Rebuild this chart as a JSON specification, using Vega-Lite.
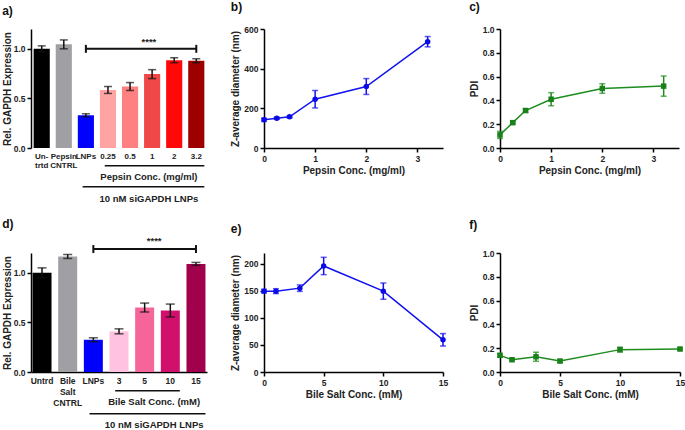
{
  "$schema": "https://vega.github.io/schema/vega-lite/v6.json",
  "padding": {"left": 2, "top": 1, "right": 0, "bottom": 0},
  "background": "white",
  "columns": 3,
  "bounds": "flush",
  "spacing": {"row": 105, "column": 57},
  "resolve": {"scale": {"color": "independent"}},
  "datasets": {
    "a_bars": [
      {"cat": "Un-|trtd", "v": 1.0, "lo": 0.97, "hi": 1.03},
      {"cat": "Pepsin|CNTRL", "v": 1.045, "lo": 1.0, "hi": 1.09},
      {"cat": "LNPs", "v": 0.33, "lo": 0.315, "hi": 0.345},
      {"cat": "0.25", "v": 0.585, "lo": 0.55, "hi": 0.62},
      {"cat": "0.5", "v": 0.62, "lo": 0.58, "hi": 0.66},
      {"cat": "1", "v": 0.745, "lo": 0.7, "hi": 0.79},
      {"cat": "2", "v": 0.885, "lo": 0.86, "hi": 0.91},
      {"cat": "3.2", "v": 0.88, "lo": 0.86, "hi": 0.9}
    ],
    "a_bracket": [{"x1": "LNPs", "x2": "3.2", "y": 1.0}],
    "a_caps": [{"x": "LNPs", "y1": 0.96, "y2": 1.04}, {"x": "3.2", "y1": 0.96, "y2": 1.04}],
    "a_under": [{"x1": "0.25", "x2": "3.2", "y": -0.18}, {"x1": "LNPs", "x2": "3.2", "y": -0.39}],
    "a_text": [
      {"x": "1", "y": 1.07, "label": "****"},
      {"x": "1", "y": -0.29, "label": "Pepsin Conc. (mg/ml)"},
      {"x": "1", "y": -0.51, "label": "10 nM siGAPDH LNPs"}
    ],
    "d_bars": [
      {"cat": "Untrd", "v": 1.0, "lo": 0.95, "hi": 1.05},
      {"cat": "Bile|Salt|CNTRL", "v": 1.165, "lo": 1.145, "hi": 1.185},
      {"cat": "LNPs", "v": 0.325, "lo": 0.305, "hi": 0.345},
      {"cat": "3", "v": 0.41, "lo": 0.385, "hi": 0.435},
      {"cat": "5", "v": 0.65, "lo": 0.605, "hi": 0.695},
      {"cat": "10", "v": 0.62, "lo": 0.555, "hi": 0.685},
      {"cat": "15", "v": 1.09, "lo": 1.075, "hi": 1.105}
    ],
    "d_bracket": [{"x1": "LNPs", "x2": "15", "y": 1.24}],
    "d_caps": [{"x": "LNPs", "y1": 1.2, "y2": 1.28}, {"x": "15", "y1": 1.2, "y2": 1.28}],
    "d_under": [{"x1": "3", "x2": "10", "y": -0.19}, {"x1": "LNPs", "x2": "15", "y": -0.42}],
    "d_text": [
      {"x": "5", "y": 1.325, "label": "****"},
      {"x": "5", "y": -0.3, "label": "Bile Salt Conc. (mM)"},
      {"x": "5", "y": -0.53, "label": "10 nM siGAPDH LNPs"}
    ],
    "b_pts": [
      {"x": 0, "v": 142, "lo": 134, "hi": 150},
      {"x": 0.25, "v": 150, "lo": 145, "hi": 155},
      {"x": 0.5, "v": 157, "lo": 152, "hi": 162},
      {"x": 1, "v": 246, "lo": 202, "hi": 290},
      {"x": 2, "v": 310, "lo": 270, "hi": 350},
      {"x": 3.2, "v": 536, "lo": 510, "hi": 562}
    ],
    "c_pts": [
      {"x": 0, "v": 0.11, "lo": 0.08, "hi": 0.14},
      {"x": 0.25, "v": 0.213, "lo": 0.203, "hi": 0.223},
      {"x": 0.5, "v": 0.315, "lo": 0.3, "hi": 0.33},
      {"x": 1, "v": 0.41, "lo": 0.355, "hi": 0.465},
      {"x": 2, "v": 0.5, "lo": 0.46, "hi": 0.54},
      {"x": 3.2, "v": 0.52, "lo": 0.435, "hi": 0.605}
    ],
    "e_pts": [
      {"x": 0, "v": 149.5, "lo": 146, "hi": 153},
      {"x": 1, "v": 149.5, "lo": 145, "hi": 154},
      {"x": 3, "v": 155, "lo": 149, "hi": 161},
      {"x": 5, "v": 196, "lo": 180, "hi": 212},
      {"x": 10, "v": 149.5, "lo": 134.5, "hi": 164.5},
      {"x": 15, "v": 59.5, "lo": 48, "hi": 71}
    ],
    "f_pts": [
      {"x": 0, "v": 0.14, "lo": 0.125, "hi": 0.155},
      {"x": 1, "v": 0.103, "lo": 0.093, "hi": 0.113},
      {"x": 3, "v": 0.128, "lo": 0.09, "hi": 0.166},
      {"x": 5, "v": 0.092, "lo": 0.08, "hi": 0.104},
      {"x": 10, "v": 0.188, "lo": 0.168, "hi": 0.208},
      {"x": 15, "v": 0.193, "lo": 0.183, "hi": 0.203}
    ]
  },
  "concat": [
    {
      "width": 176, "height": 119,
      "title": {"text": "a)", "offset": 11},
      "layer": [
        {
          "data": {"name": "a_bars"},
          "mark": {"type": "bar"},
          "encoding": {
            "x": {"field": "cat", "type": "nominal",
              "scale": {"domain": ["Un-|trtd", "Pepsin|CNTRL", "LNPs", "0.25", "0.5", "1", "2", "3.2"], "paddingInner": 0.27, "paddingOuter": 0.12},
              "axis": {"title": null, "domain": false, "ticks": false, "labelPadding": 4, "labelFontSize": 8, "labelLineHeight": 9, "labelExpr": "split(datum.label, '|')"}},
            "y": {"field": "v", "type": "quantitative",
              "scale": {"domain": [0, 1.2], "nice": false},
              "axis": {"values": [0, 0.5, 1.0], "tickCount": 3, "format": ".1f", "title": "Rel. GAPDH Expression", "titlePadding": 1}},
            "color": {"field": "cat", "type": "nominal", "legend": null,
              "scale": {"domain": ["Un-|trtd", "Pepsin|CNTRL", "LNPs", "0.25", "0.5", "1", "2", "3.2"],
                "range": ["#000000", "#a0a0a4", "#0000ff", "#ffa3a3", "#ff8080", "#f04848", "#ff0808", "#9e0000"]}}
          }
        },
        {
          "data": {"name": "a_bars"},
          "mark": {"type": "rule", "color": "#111", "strokeWidth": 1.5},
          "encoding": {
            "x": {"field": "cat", "type": "nominal"},
            "y": {"field": "lo", "type": "quantitative", "scale": {"domain": [0, 1.2], "nice": false}},
            "y2": {"field": "hi"}
          }
        },
        {
          "data": {"name": "a_bars"},
          "mark": {"type": "tick", "orient": "horizontal", "size": 8, "thickness": 1.5, "color": "#111"},
          "encoding": {
            "x": {"field": "cat", "type": "nominal"},
            "y": {"field": "lo", "type": "quantitative", "scale": {"domain": [0, 1.2], "nice": false}}
          }
        },
        {
          "data": {"name": "a_bars"},
          "mark": {"type": "tick", "orient": "horizontal", "size": 8, "thickness": 1.5, "color": "#111"},
          "encoding": {
            "x": {"field": "cat", "type": "nominal"},
            "y": {"field": "hi", "type": "quantitative", "scale": {"domain": [0, 1.2], "nice": false}}
          }
        },
        {
          "data": {"name": "a_bracket"},
          "mark": {"type": "rule", "color": "#111", "strokeWidth": 2},
          "encoding": {
            "x": {"field": "x1", "type": "nominal"},
            "x2": {"field": "x2"},
            "y": {"field": "y", "type": "quantitative", "scale": {"domain": [0, 1.2], "nice": false}}
          }
        },
        {
          "data": {"name": "a_caps"},
          "mark": {"type": "rule", "color": "#111", "strokeWidth": 2},
          "encoding": {
            "x": {"field": "x", "type": "nominal"},
            "y": {"field": "y1", "type": "quantitative", "scale": {"domain": [0, 1.2], "nice": false}},
            "y2": {"field": "y2"}
          }
        },
        {
          "data": {"name": "a_under"},
          "mark": {"type": "rule", "color": "#111", "strokeWidth": 1.5},
          "encoding": {
            "x": {"field": "x1", "type": "nominal", "bandPosition": 0.3},
            "x2": {"field": "x2", "bandPosition": 1},
            "y": {"field": "y", "type": "quantitative", "scale": {"domain": [0, 1.2], "nice": false}}
          }
        },
        {
          "data": {"name": "a_text"},
          "mark": {"type": "text", "font": "Liberation Sans", "fontWeight": "bold", "fontSize": 9.5, "color": "#222", "baseline": "middle"},
          "encoding": {
            "x": {"field": "x", "type": "nominal", "bandPosition": 0.3},
            "y": {"field": "y", "type": "quantitative", "scale": {"domain": [0, 1.2], "nice": false}},
            "text": {"field": "label"}
          }
        }
      ]
    },
    {
      "width": 179, "height": 119,
      "title": {"text": "b)", "offset": 11},
      "data": {"name": "b_pts"},
      "encoding": {
        "x": {"field": "x", "type": "quantitative", "scale": {"domain": [0, 3.5], "nice": false},
          "axis": {"values": [0, 1, 2, 3], "tickCount": 4, "title": "Pepsin Conc. (mg/ml)", "labelFlush": false}}
      },
      "layer": [
        {
          "mark": {"type": "line", "color": "#1212ee", "strokeWidth": 1.5},
          "encoding": {
            "y": {"field": "v", "type": "quantitative", "scale": {"domain": [0, 600], "nice": false},
              "axis": {"values": [0, 200, 400, 600], "tickCount": 4, "title": "Z-average diameter (nm)", "labelOverlap": false}}
          }
        },
        {
          "mark": {"type": "rule", "color": "#1212ee", "strokeWidth": 1.5},
          "encoding": {
            "y": {"field": "lo", "type": "quantitative", "scale": {"domain": [0, 600], "nice": false}},
            "y2": {"field": "hi"}
          }
        },
        {
          "mark": {"type": "tick", "orient": "horizontal", "size": 6, "thickness": 1.5, "color": "#1212ee"},
          "encoding": {"y": {"field": "lo", "type": "quantitative", "scale": {"domain": [0, 600], "nice": false}}}
        },
        {
          "mark": {"type": "tick", "orient": "horizontal", "size": 6, "thickness": 1.5, "color": "#1212ee"},
          "encoding": {"y": {"field": "hi", "type": "quantitative", "scale": {"domain": [0, 600], "nice": false}}}
        },
        {
          "mark": {"type": "point", "shape": "circle", "filled": true, "opacity": 1, "size": 30, "color": "#0a0ae6"},
          "encoding": {"y": {"field": "v", "type": "quantitative", "scale": {"domain": [0, 600], "nice": false}}}
        }
      ]
    },
    {
      "width": 179, "height": 119,
      "title": {"text": "c)", "offset": 11},
      "data": {"name": "c_pts"},
      "encoding": {
        "x": {"field": "x", "type": "quantitative", "scale": {"domain": [0, 3.5], "nice": false},
          "axis": {"values": [0, 1, 2, 3], "tickCount": 4, "title": "Pepsin Conc. (mg/ml)", "labelFlush": false}},
        "y": {"field": "v", "type": "quantitative", "scale": {"domain": [0, 1], "nice": false},
          "axis": {"values": [0, 0.2, 0.4, 0.6, 0.8, 1.0], "tickCount": 6, "format": ".1f", "title": "PDI", "labelOverlap": false}}
      },
      "layer": [
        {
          "mark": {"type": "rule", "color": "#1e8c1e", "strokeWidth": 1.5},
          "encoding": {"y": {"field": "lo", "type": "quantitative"}, "y2": {"field": "hi"}}
        },
        {
          "mark": {"type": "tick", "orient": "horizontal", "size": 6, "thickness": 1.5, "color": "#1e8c1e"},
          "encoding": {"y": {"field": "lo", "type": "quantitative"}}
        },
        {
          "mark": {"type": "tick", "orient": "horizontal", "size": 6, "thickness": 1.5, "color": "#1e8c1e"},
          "encoding": {"y": {"field": "hi", "type": "quantitative"}}
        },
        {"mark": {"type": "line", "color": "#1e8c1e", "strokeWidth": 1.5}},
        {"mark": {"type": "point", "shape": "square", "filled": true, "opacity": 1, "size": 30, "color": "#1a801a"}}
      ]
    },
    {
      "width": 176, "height": 119,
      "title": {"text": "d)", "offset": 5},
      "layer": [
        {
          "data": {"name": "d_bars"},
          "mark": {"type": "bar"},
          "encoding": {
            "x": {"field": "cat", "type": "nominal",
              "scale": {"domain": ["Untrd", "Bile|Salt|CNTRL", "LNPs", "3", "5", "10", "15"], "paddingInner": 0.26, "paddingOuter": 0.06},
              "axis": {"title": null, "domain": true, "ticks": false, "labelPadding": 4, "labelFontSize": 8.5, "labelLineHeight": 11, "labelExpr": "split(datum.label, '|')"}},
            "y": {"field": "v", "type": "quantitative",
              "scale": {"domain": [0, 1.2], "nice": false},
              "axis": {"values": [0, 0.5, 1.0], "tickCount": 3, "format": ".1f", "title": "Rel. GAPDH Expression", "titlePadding": 1}},
            "color": {"field": "cat", "type": "nominal", "legend": null,
              "scale": {"domain": ["Untrd", "Bile|Salt|CNTRL", "LNPs", "3", "5", "10", "15"],
                "range": ["#000000", "#a0a0a4", "#0000ff", "#ffc2e0", "#f5659a", "#d0106a", "#a0004c"]}}
          }
        },
        {
          "data": {"name": "d_bars"},
          "mark": {"type": "rule", "color": "#111", "strokeWidth": 1.5},
          "encoding": {
            "x": {"field": "cat", "type": "nominal"},
            "y": {"field": "lo", "type": "quantitative", "scale": {"domain": [0, 1.2], "nice": false}},
            "y2": {"field": "hi"}
          }
        },
        {
          "data": {"name": "d_bars"},
          "mark": {"type": "tick", "orient": "horizontal", "size": 9, "thickness": 1.5, "color": "#111"},
          "encoding": {
            "x": {"field": "cat", "type": "nominal"},
            "y": {"field": "lo", "type": "quantitative", "scale": {"domain": [0, 1.2], "nice": false}}
          }
        },
        {
          "data": {"name": "d_bars"},
          "mark": {"type": "tick", "orient": "horizontal", "size": 9, "thickness": 1.5, "color": "#111"},
          "encoding": {
            "x": {"field": "cat", "type": "nominal"},
            "y": {"field": "hi", "type": "quantitative", "scale": {"domain": [0, 1.2], "nice": false}}
          }
        },
        {
          "data": {"name": "d_bracket"},
          "mark": {"type": "rule", "color": "#111", "strokeWidth": 2},
          "encoding": {
            "x": {"field": "x1", "type": "nominal"},
            "x2": {"field": "x2"},
            "y": {"field": "y", "type": "quantitative", "scale": {"domain": [0, 1.2], "nice": false}}
          }
        },
        {
          "data": {"name": "d_caps"},
          "mark": {"type": "rule", "color": "#111", "strokeWidth": 2},
          "encoding": {
            "x": {"field": "x", "type": "nominal"},
            "y": {"field": "y1", "type": "quantitative", "scale": {"domain": [0, 1.2], "nice": false}},
            "y2": {"field": "y2"}
          }
        },
        {
          "data": {"name": "d_under"},
          "mark": {"type": "rule", "color": "#111", "strokeWidth": 1.5},
          "encoding": {
            "x": {"field": "x1", "type": "nominal", "bandPosition": 0.3},
            "x2": {"field": "x2", "bandPosition": 1},
            "y": {"field": "y", "type": "quantitative", "scale": {"domain": [0, 1.2], "nice": false}}
          }
        },
        {
          "data": {"name": "d_text"},
          "mark": {"type": "text", "font": "Liberation Sans", "fontWeight": "bold", "fontSize": 9.5, "color": "#222", "baseline": "middle"},
          "encoding": {
            "x": {"field": "x", "type": "nominal", "bandPosition": 1},
            "y": {"field": "y", "type": "quantitative", "scale": {"domain": [0, 1.2], "nice": false}},
            "text": {"field": "label"}
          }
        }
      ]
    },
    {
      "width": 179, "height": 119,
      "title": {"text": "e)", "offset": 17},
      "data": {"name": "e_pts"},
      "encoding": {
        "x": {"field": "x", "type": "quantitative", "scale": {"domain": [0, 15], "nice": false},
          "axis": {"values": [0, 5, 10, 15], "tickCount": 4, "title": "Bile Salt Conc. (mM)", "labelFlush": false}},
        "y": {"field": "v", "type": "quantitative", "scale": {"domain": [0, 220], "nice": false},
          "axis": {"values": [0, 50, 100, 150, 200], "tickCount": 5, "title": "Z-average diameter (nm)", "labelOverlap": false}}
      },
      "layer": [
        {
          "mark": {"type": "rule", "color": "#1212ee", "strokeWidth": 1.5},
          "encoding": {"y": {"field": "lo", "type": "quantitative"}, "y2": {"field": "hi"}}
        },
        {
          "mark": {"type": "tick", "orient": "horizontal", "size": 6, "thickness": 1.5, "color": "#1212ee"},
          "encoding": {"y": {"field": "lo", "type": "quantitative"}}
        },
        {
          "mark": {"type": "tick", "orient": "horizontal", "size": 6, "thickness": 1.5, "color": "#1212ee"},
          "encoding": {"y": {"field": "hi", "type": "quantitative"}}
        },
        {"mark": {"type": "line", "color": "#1212ee", "strokeWidth": 1.5}},
        {"mark": {"type": "point", "shape": "circle", "filled": true, "opacity": 1, "size": 30, "color": "#0a0ae6"}}
      ]
    },
    {
      "width": 180, "height": 119,
      "title": {"text": "f)", "offset": 17},
      "data": {"name": "f_pts"},
      "encoding": {
        "x": {"field": "x", "type": "quantitative", "scale": {"domain": [0, 15], "nice": false},
          "axis": {"values": [0, 5, 10, 15], "tickCount": 4, "title": "Bile Salt Conc. (mM)", "labelFlush": false}},
        "y": {"field": "v", "type": "quantitative", "scale": {"domain": [0, 1], "nice": false},
          "axis": {"values": [0, 0.2, 0.4, 0.6, 0.8, 1.0], "tickCount": 6, "format": ".1f", "title": "PDI", "labelOverlap": false}}
      },
      "layer": [
        {
          "mark": {"type": "rule", "color": "#1e8c1e", "strokeWidth": 1.5},
          "encoding": {"y": {"field": "lo", "type": "quantitative"}, "y2": {"field": "hi"}}
        },
        {
          "mark": {"type": "tick", "orient": "horizontal", "size": 6, "thickness": 1.5, "color": "#1e8c1e"},
          "encoding": {"y": {"field": "lo", "type": "quantitative"}}
        },
        {
          "mark": {"type": "tick", "orient": "horizontal", "size": 6, "thickness": 1.5, "color": "#1e8c1e"},
          "encoding": {"y": {"field": "hi", "type": "quantitative"}}
        },
        {"mark": {"type": "line", "color": "#1e8c1e", "strokeWidth": 1.5}},
        {"mark": {"type": "point", "shape": "square", "filled": true, "opacity": 1, "size": 30, "color": "#1a801a"}}
      ]
    }
  ],
  "config": {
    "font": "Liberation Sans",
    "view": {"stroke": null},
    "axis": {
      "grid": false,
      "labelOverlap": false,
      "domainColor": "#000", "domainWidth": 1.5,
      "tickColor": "#000", "tickWidth": 1.5, "tickSize": 4,
      "labelFont": "Liberation Sans", "labelFontWeight": "bold", "labelFontSize": 8.5, "labelColor": "#222", "labelPadding": 2,
      "titleFont": "Liberation Sans", "titleFontWeight": "bold", "titleFontSize": 10, "titleColor": "#222", "titlePadding": 3
    },
    "axisX": {"labelAngle": 0},
    "title": {"font": "Liberation Sans", "fontSize": 12, "fontWeight": "bold", "anchor": "start", "frame": "bounds", "color": "#111"}
  }
}
